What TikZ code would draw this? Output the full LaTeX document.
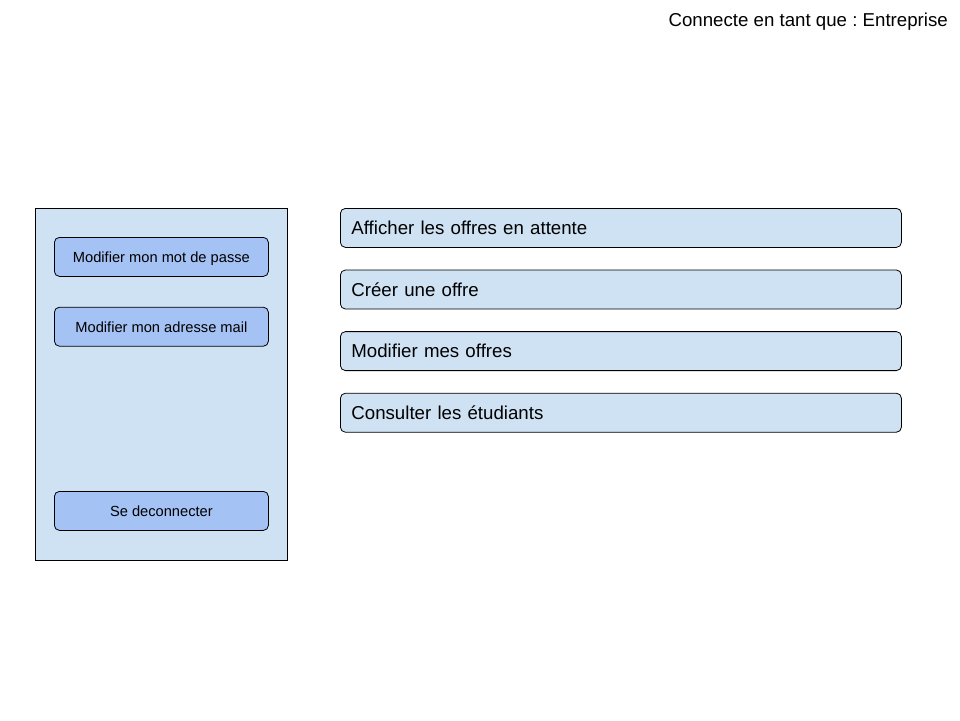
\documentclass[tikz,border=0pt]{standalone}
\usepackage{fontspec}
\setmainfont{Liberation Sans}
\usetikzlibrary{positioning}
\definecolor{lblue}{HTML}{CFE2F3}
\definecolor{mblue}{HTML}{A4C2F4}
\tikzstyle{Panel} = [
draw,
fill=lblue,
line width=0.8pt,
anchor=north west,
inner sep=0pt,
minimum width=252pt,
minimum height=352pt]
\tikzstyle{Side} = [
draw,
fill=mblue,
line width=0.8pt,
rounded corners=5pt,
anchor=north west,
minimum width=214pt,
minimum height=39pt,
text depth=0pt,
font=\fontsize{14.67}{16}\selectfont]
\tikzstyle{Menu} = [
draw,
fill=lblue,
line width=0.8pt,
rounded corners=5pt,
anchor=north west,
inner xsep=11pt,
text width=539pt,
minimum height=39pt,
align=left,
font=\fontsize{18.67}{20}\selectfont]

\begin{document}
\frenchspacing
\begin{tikzpicture}[x=1pt, y=-1pt, node distance=21.8pt]
    \useasboundingbox (0,0) rectangle (960,720);
    \node [anchor=base east, inner sep=0pt, font=\fontsize{18.67}{20}\selectfont] (user) at (948,27) {Connecte en tant que : Entreprise};

    \node [Panel] (panel) at (35,208) {};
    \node [Side] (pwd) at (54,237) {Modifier mon mot de passe};
    \node [Side, below=30pt of pwd.south west, anchor=north west] (mail) {Modifier mon adresse mail};
    \node [Side] (logout) at (54,491) {Se deconnecter};

    \node [Menu] (wait) at (340,208) {Afficher les offres en attente};
    \node [Menu, below=of wait.south west, anchor=north west] (create) {Créer une offre};
    \node [Menu, below=of create.south west, anchor=north west] (edit) {Modifier mes offres};
    \node [Menu, below=of edit.south west, anchor=north west] (students) {Consulter les étudiants};
\end{tikzpicture}
\end{document}
